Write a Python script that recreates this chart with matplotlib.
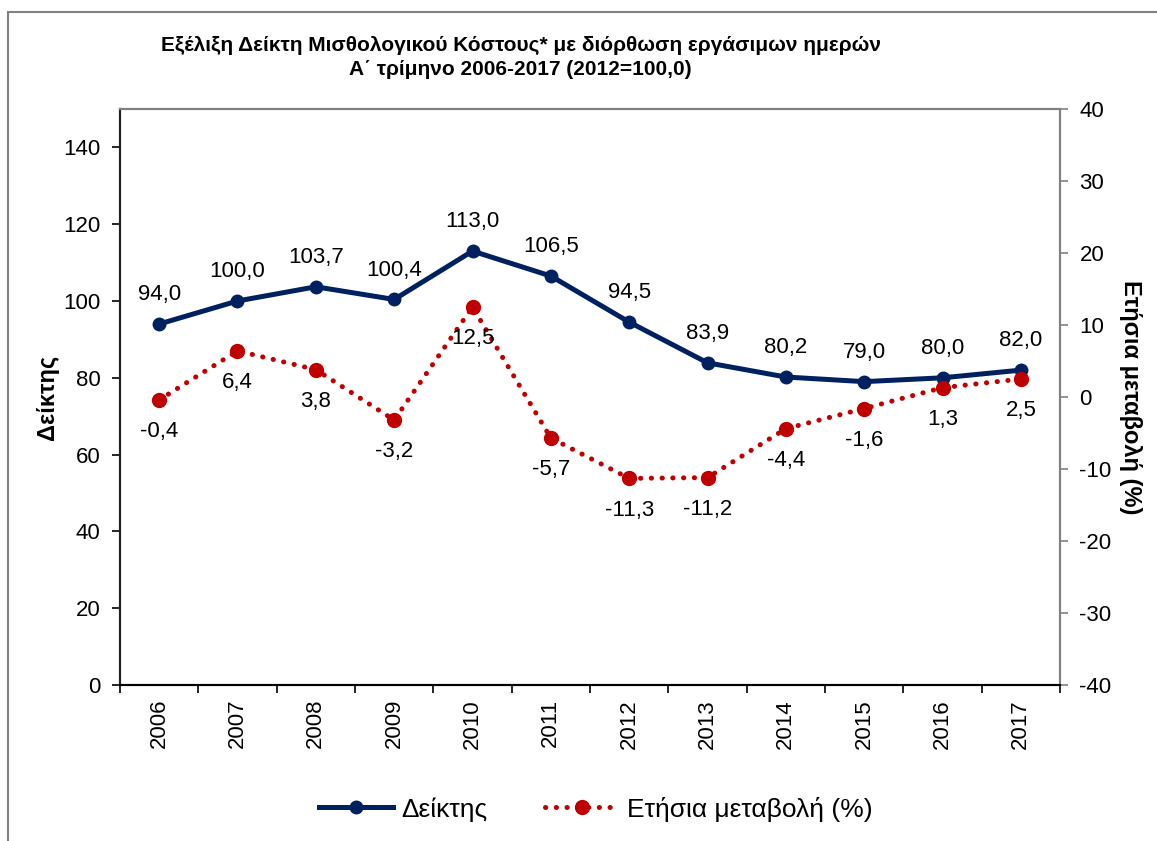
import matplotlib
matplotlib.use("Agg")
import matplotlib.pyplot as plt
from matplotlib.patches import Rectangle
import numpy as np

# Δεδομένα
years = ['2006', '2007', '2008', '2009', '2010', '2011',
         '2012', '2013', '2014', '2015', '2016', '2017']
index_values = [94.0, 100.0, 103.7, 100.4, 113.0, 106.5,
                94.5, 83.9, 80.2, 79.0, 80.0, 82.0]
annual_change = [-0.4, 6.4, 3.8, -3.2, 12.5, -5.7,
                 -11.3, -11.2, -4.4, -1.6, 1.3, 2.5]

plt.rcParams['font.family'] = ['Liberation Sans', 'DejaVu Sans']
plt.rcParams['axes.unicode_minus'] = False

navy = '#002060'
red = '#C00000'
grey = '#808080'

fig = plt.figure(figsize=(11.57, 8.41), dpi=100)
ax = fig.add_axes([0.1037, 0.1855, 0.8125, 0.6849])
ax2 = ax.twinx()

x = np.arange(len(years))

# Γραμμή δείκτη
l1, = ax.plot(x, index_values, color=navy, linewidth=3.6,
              marker='o', markersize=9, label='Δείκτης', zorder=3)
# Ετήσια μεταβολή
l2, = ax2.plot(x, annual_change, color=red, linewidth=3.6,
               linestyle=(0, (0.05, 2.1)), dash_capstyle='round',
               marker='o', markersize=10, label='Ετήσια μεταβολή (%)',
               zorder=3)

# Ετικέτες τιμών
for xi, v in zip(x, index_values):
    ax.annotate(f'{v:.1f}'.replace('.', ','), (xi, v), xytext=(0, 21),
                textcoords='offset points', ha='center', va='center',
                fontsize=16)
for xi, v in zip(x, annual_change):
    ax2.annotate(f'{v:.1f}'.replace('.', ','), (xi, v), xytext=(0, -23),
                 textcoords='offset points', ha='center', va='center',
                 fontsize=16)

# Άξονες
ax.set_xlim(-0.5, len(years) - 0.5)
ax.set_ylim(0, 150)
ax.set_yticks(range(0, 141, 20))
ax2.set_ylim(-40, 40)
ax2.set_yticks(range(-40, 41, 10))

ax.set_xticks(x)
ax.set_xticklabels(years, rotation=90, fontsize=16)
ax.set_xticks(np.arange(-0.5, len(years), 1), minor=True)
ax.tick_params(axis='x', which='major', length=0, pad=10)
ax.tick_params(axis='x', which='minor', length=6, width=1.2,
               direction='out', color='black')
ax.tick_params(axis='y', labelsize=16, length=6, width=1.2,
               direction='out', pad=8)
ax2.tick_params(axis='y', labelsize=16, length=6, width=1.2,
                direction='out', colors=grey, labelcolor='black', pad=8)

for a in (ax, ax2):
    a.spines['top'].set_color(grey)
    a.spines['top'].set_linewidth(1.5)
    a.spines['right'].set_color(grey)
    a.spines['right'].set_linewidth(1.5)
    a.spines['left'].set_color('#222222')
    a.spines['left'].set_linewidth(1.5)
    a.spines['bottom'].set_color('black')
    a.spines['bottom'].set_linewidth(1.5)

ax.set_ylabel('Δείκτης', fontsize=17, fontweight='bold', labelpad=3)
ax2.set_ylabel('Ετήσια μεταβολή (%)', fontsize=17, fontweight='bold',
               rotation=-90, labelpad=22)

# Τίτλος
fig.text(0.45, 0.946, 'Εξέλιξη Δείκτη Μισθολογικού Κόστους* με διόρθωση εργάσιμων ημερών',
         ha='center', va='center', fontsize=15, fontweight='bold')
fig.text(0.45, 0.917, 'Α΄ τρίμηνο 2006-2017 (2012=100,0)',
         ha='center', va='center', fontsize=15, fontweight='bold')

# Υπόμνημα
fig.legend([l1, l2], ['Δείκτης', 'Ετήσια μεταβολή (%)'], loc='center',
           bbox_to_anchor=(0.515, 0.038), ncol=2, frameon=False,
           fontsize=19, handlelength=2.8, columnspacing=2.2,
           handletextpad=0.3)

# Πλαίσιο
fig.patches.append(Rectangle((8 / 1157, -0.1), 1.2, (841 - 12) / 841 + 0.1,
                             transform=fig.transFigure, fill=False,
                             edgecolor=grey, linewidth=1.5))

fig.savefig('out.png', dpi=100)
